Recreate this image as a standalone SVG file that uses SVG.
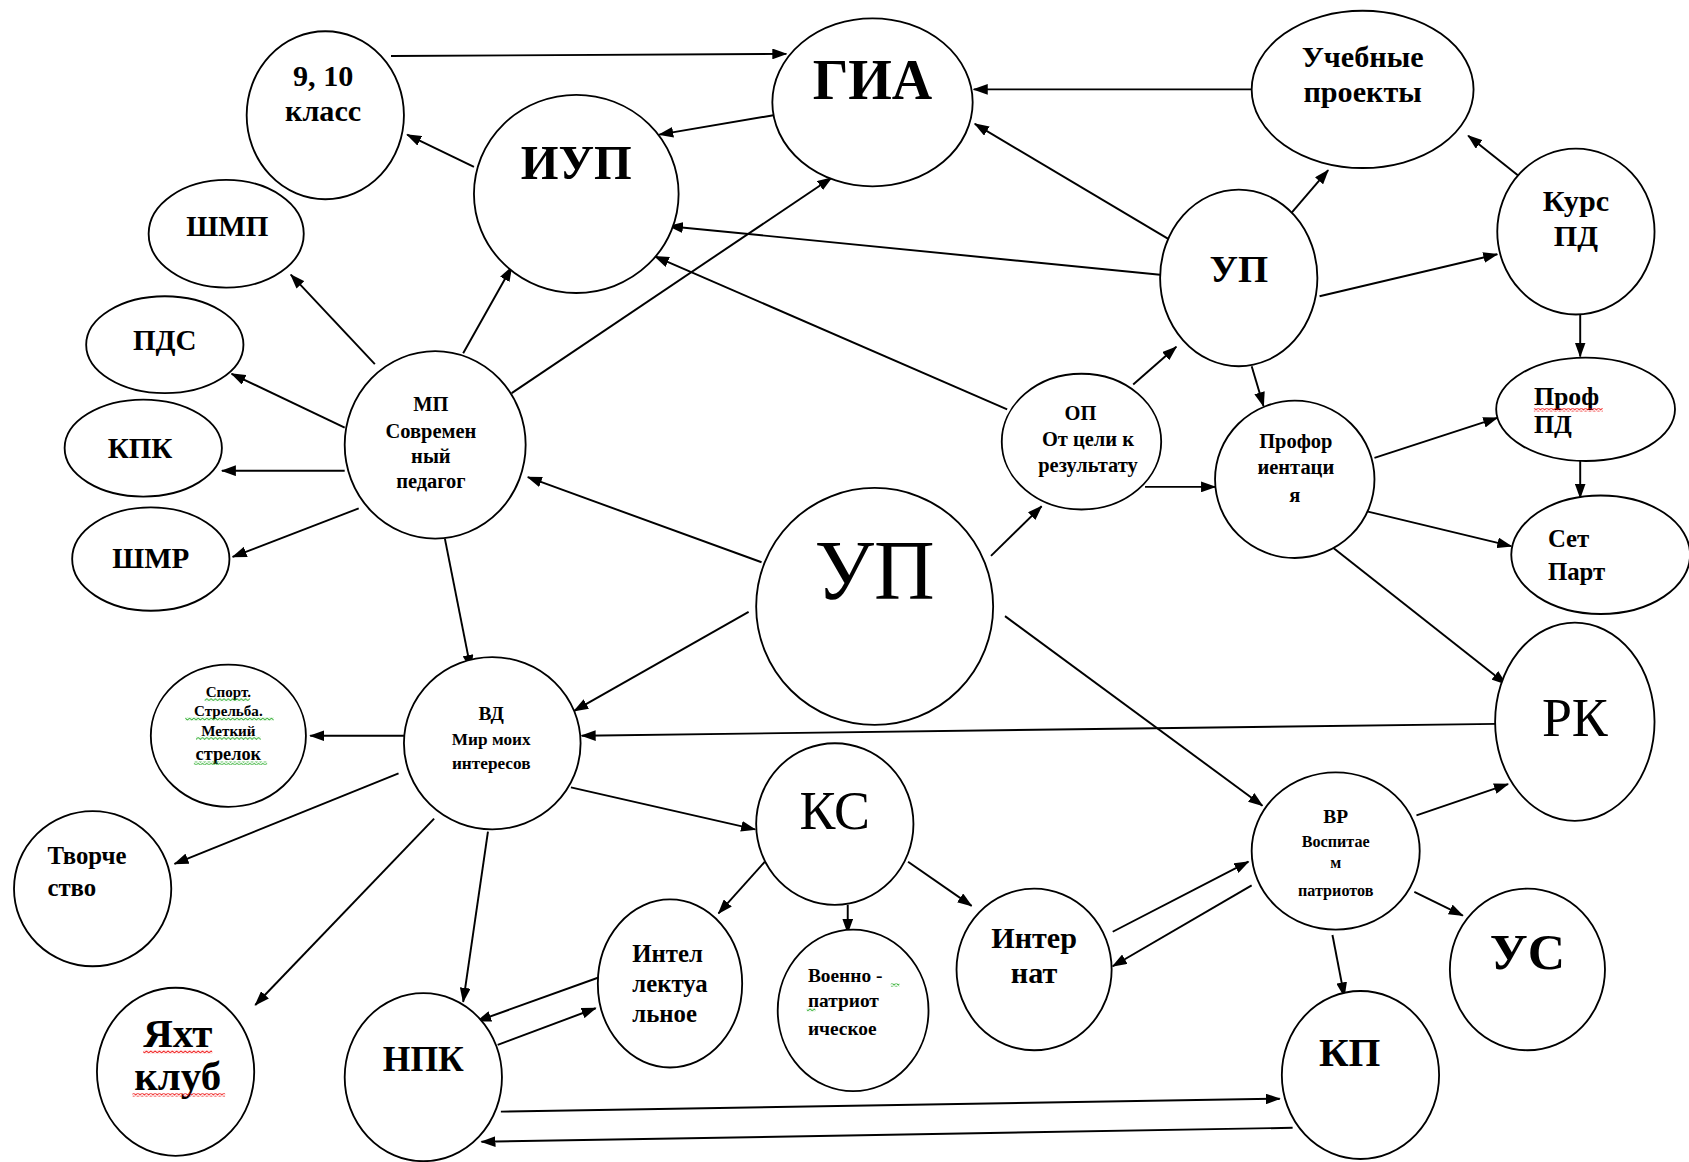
<svg xmlns="http://www.w3.org/2000/svg" width="1689" height="1162" viewBox="0 0 1689 1162">
<defs>
<style>
.n{fill:#fff;stroke:#000;stroke-width:1.7}
.c line{stroke:#000;stroke-width:1.8;marker-end:url(#ah)}
text{font-family:"Liberation Serif","Times New Roman",serif;fill:#000;text-anchor:middle}
.b{font-weight:bold}
.l{text-anchor:start}
</style>
<marker id="ah" markerUnits="userSpaceOnUse" markerWidth="14" markerHeight="10" refX="13" refY="5" orient="auto">
<path d="M0,0 L14,5 L0,10 z" fill="#000"/>
</marker>
<pattern id="wr" width="4" height="3" patternUnits="userSpaceOnUse"><path d="M0,0.5 L2,2.5 L4,0.5" stroke="#e00" stroke-width="0.8" fill="none"/></pattern>
<pattern id="wg" width="4" height="3" patternUnits="userSpaceOnUse"><path d="M0,0.5 L2,2.5 L4,0.5" stroke="#2a2" stroke-width="0.8" fill="none"/></pattern>
</defs>
<rect width="1689" height="1162" fill="#fff"/>
<g transform="scale(1.07717)">
<g class="c" id="connectors">
<line x1="363" y1="52" x2="730" y2="50"/>
<line x1="718" y1="107" x2="612" y2="125"/>
<line x1="440" y1="155" x2="378" y2="125"/>
<line x1="1162" y1="83" x2="904" y2="83"/>
<line x1="1090" y1="225" x2="905" y2="115"/>
<line x1="1077" y1="255" x2="621" y2="210"/>
<line x1="935" y1="380" x2="608" y2="238"/>
<line x1="475" y1="365" x2="772" y2="165"/>
<line x1="430" y1="328" x2="475" y2="248"/>
<line x1="348" y1="338" x2="270" y2="255"/>
<line x1="320" y1="397" x2="215" y2="347"/>
<line x1="320" y1="437" x2="206" y2="437"/>
<line x1="333" y1="472" x2="216" y2="517"/>
<line x1="413" y1="500" x2="437" y2="621"/>
<line x1="707" y1="522" x2="490" y2="443"/>
<line x1="695" y1="568" x2="533" y2="660"/>
<line x1="920" y1="516" x2="967" y2="470"/>
<line x1="933" y1="572" x2="1172" y2="748"/>
<line x1="1052" y1="357" x2="1092" y2="322"/>
<line x1="1063" y1="452" x2="1128" y2="452"/>
<line x1="1190" y1="208" x2="1233" y2="158"/>
<line x1="1225" y1="275" x2="1390" y2="236"/>
<line x1="1162" y1="340" x2="1173" y2="377"/>
<line x1="1412" y1="165" x2="1363" y2="126"/>
<line x1="1467" y1="290" x2="1467" y2="331"/>
<line x1="1467" y1="428" x2="1467" y2="462"/>
<line x1="1276" y1="425" x2="1390" y2="388"/>
<line x1="1270" y1="475" x2="1403" y2="507"/>
<line x1="1237" y1="508" x2="1398" y2="635"/>
<line x1="1390" y1="672" x2="540" y2="683"/>
<line x1="1315" y1="757" x2="1400" y2="728"/>
<line x1="1313" y1="828" x2="1358" y2="850"/>
<line x1="1237" y1="868" x2="1248" y2="925"/>
<line x1="1162" y1="822" x2="1033" y2="897"/>
<line x1="1033" y1="865" x2="1159" y2="800"/>
<line x1="375" y1="683" x2="288" y2="683"/>
<line x1="370" y1="718" x2="162" y2="802"/>
<line x1="403" y1="760" x2="237" y2="933"/>
<line x1="453" y1="772" x2="430" y2="930"/>
<line x1="530" y1="731" x2="701" y2="770"/>
<line x1="710" y1="800" x2="667" y2="848"/>
<line x1="787" y1="840" x2="787" y2="866"/>
<line x1="843" y1="800" x2="902" y2="841"/>
<line x1="557" y1="907" x2="443" y2="948"/>
<line x1="462" y1="970" x2="553" y2="936"/>
<line x1="465" y1="1032" x2="1188" y2="1020"/>
<line x1="1200" y1="1047" x2="447" y2="1060"/>
</g>
<g id="n910"><ellipse class="n" cx="302" cy="107" rx="73" ry="78"/><text class="b" x="300" y="80" font-size="28">9, 10</text><text class="b" x="300" y="112" font-size="28">класс</text></g>
<g id="gia"><ellipse class="n" cx="810" cy="95" rx="93" ry="78"/><text class="b" x="810" y="92" font-size="52">ГИА</text></g>
<g id="uchproj"><ellipse class="n" cx="1265" cy="83" rx="103" ry="73"/><text class="b" x="1265" y="62" font-size="28">Учебные</text><text class="b" x="1265" y="95" font-size="28">проекты</text></g>
<g id="iup"><ellipse class="n" cx="535" cy="180" rx="95" ry="92"/><text class="b" x="535" y="166" font-size="45">ИУП</text></g>
<g id="shmp"><ellipse class="n" cx="210" cy="217" rx="72" ry="50"/><text class="b" x="211" y="219" font-size="27">ШМП</text></g>
<g id="pds"><ellipse class="n" cx="153" cy="320" rx="73" ry="45"/><text class="b" x="153" y="325" font-size="27">ПДС</text></g>
<g id="kpk"><ellipse class="n" cx="133" cy="416" rx="73" ry="45"/><text class="b" x="130" y="425" font-size="27">КПК</text></g>
<g id="shmr"><ellipse class="n" cx="140" cy="519" rx="73" ry="48"/><text class="b" x="140" y="527" font-size="27">ШМР</text></g>
<g id="mp"><ellipse class="n" cx="404" cy="413" rx="84" ry="87"/><text class="b" x="400" y="382" font-size="19">МП</text><text class="b" x="400" y="407" font-size="19">Современ</text><text class="b" x="400" y="430" font-size="19">ный</text><text class="b" x="400" y="453" font-size="19">педагог</text></g>
<g id="kurspd"><ellipse class="n" cx="1463" cy="215" rx="73" ry="77"/><text class="b" x="1463" y="196" font-size="28">Курс</text><text class="b" x="1463" y="228" font-size="28">ПД</text></g>
<g id="up2"><ellipse class="n" cx="1150" cy="258" rx="73" ry="82"/><text class="b" x="1150" y="262" font-size="36">УП</text></g>
<g id="op"><ellipse class="n" cx="1004" cy="410" rx="74" ry="63"/><text class="b" x="1003" y="390" font-size="19">ОП</text><text class="b" x="1010" y="414" font-size="19">От цели к</text><text class="b" x="1010" y="438" font-size="19">результату</text></g>
<g id="proforient"><ellipse class="n" cx="1202" cy="445" rx="74" ry="73"/><text class="b" x="1203" y="416" font-size="19">Профор</text><text class="b" x="1203" y="440" font-size="19">иентаци</text><text class="b" x="1202" y="466" font-size="19">я</text></g>
<g id="profpd"><ellipse class="n" cx="1472" cy="380" rx="83" ry="48"/><text class="l b" x="1424" y="376" font-size="24">Проф</text><text class="l b" x="1424" y="402" font-size="24">ПД</text><rect x="1424" y="379" width="64" height="3" fill="url(#wr)"/></g>
<g id="setpart"><ellipse class="n" cx="1486" cy="515" rx="83" ry="55"/><text class="l b" x="1437" y="508" font-size="23">Сет</text><text class="l b" x="1437" y="538" font-size="23">Парт</text></g>
<g id="up"><ellipse class="n" cx="812" cy="563" rx="110" ry="110"/><text x="812" y="556" font-size="78">УП</text></g>
<g id="rk"><ellipse class="n" cx="1462" cy="670" rx="74" ry="92"/><text x="1462" y="683" font-size="50">РК</text></g>
<g id="vd"><ellipse class="n" cx="457" cy="690" rx="82" ry="80"/><text class="b" x="456" y="668" font-size="18">ВД</text><text class="b" x="456" y="692" font-size="16">Мир моих</text><text class="b" x="456" y="714" font-size="16">интересов</text></g>
<g id="sport"><ellipse class="n" cx="212" cy="683" rx="72" ry="66"/><text class="b" x="212" y="647" font-size="14">Спорт.</text><text class="b" x="212" y="665" font-size="14">Стрельба.</text><text class="b" x="212" y="683" font-size="14">Меткий</text><text class="b" x="212" y="706" font-size="17">стрелок</text><rect x="190" y="648" width="42" height="3" fill="url(#wg)"/><rect x="172" y="666" width="82" height="3" fill="url(#wg)"/><rect x="182" y="684" width="60" height="3" fill="url(#wg)"/><rect x="180" y="707" width="68" height="3" fill="url(#wg)"/></g>
<g id="tvorch"><ellipse class="n" cx="86" cy="825" rx="73" ry="72"/><text class="l b" x="44" y="802" font-size="23">Творче</text><text class="l b" x="44" y="832" font-size="23">ство</text></g>
<g id="ks"><ellipse class="n" cx="775" cy="765" rx="73" ry="75"/><text x="775" y="770" font-size="50">КС</text></g>
<g id="vr"><ellipse class="n" cx="1240" cy="790" rx="78" ry="73"/><text class="b" x="1240" y="764" font-size="18">ВР</text><text class="b" x="1240" y="786" font-size="15">Воспитае</text><text class="b" x="1240" y="806" font-size="15">м</text><text class="b" x="1240" y="832" font-size="15">патриотов</text></g>
<g id="internat"><ellipse class="n" cx="960" cy="900" rx="72" ry="75"/><text class="b" x="960" y="880" font-size="28">Интер</text><text class="b" x="960" y="913" font-size="28">нат</text></g>
<g id="intel"><ellipse class="n" cx="622" cy="913" rx="67" ry="78"/><text class="l b" x="587" y="893" font-size="23">Интел</text><text class="l b" x="587" y="921" font-size="23">лектуа</text><text class="l b" x="587" y="949" font-size="23">льное</text></g>
<g id="voenno"><ellipse class="n" cx="792" cy="938" rx="70" ry="75"/><text class="l b" x="750" y="912" font-size="18">Военно -</text><text class="l b" x="750" y="935" font-size="18">патриот</text><text class="l b" x="750" y="961" font-size="18">ическое</text><rect x="827" y="913" width="8" height="3" fill="url(#wg)"/><rect x="749" y="936" width="8" height="3" fill="url(#wg)"/></g>
<g id="us"><ellipse class="n" cx="1418" cy="900" rx="72" ry="75"/><text class="b" x="1418" y="900" font-size="48">УС</text></g>
<g id="yakht"><ellipse class="n" cx="163" cy="995" rx="73" ry="78"/><text class="b" x="165" y="972" font-size="38">Яхт</text><text class="b" x="165" y="1012" font-size="38">клуб</text><rect x="133" y="975" width="64" height="3" fill="url(#wr)"/><rect x="123" y="1015" width="86" height="3" fill="url(#wr)"/></g>
<g id="npk"><ellipse class="n" cx="393" cy="1000" rx="73" ry="78"/><text class="b" x="393" y="994" font-size="33">НПК</text></g>
<g id="kp"><ellipse class="n" cx="1263" cy="998" rx="73" ry="78"/><text class="b" x="1253" y="990" font-size="38">КП</text></g>
</g>
</svg>
